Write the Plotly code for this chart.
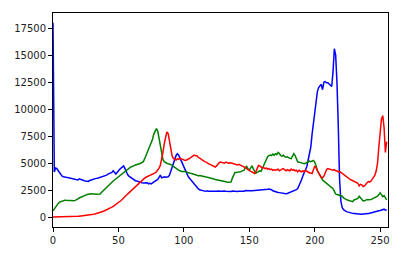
import plotly.graph_objects as go

bins = list(range(256))

blue = [
    18000, 4200, 4550, 4500, 4300, 4100, 3900, 3800, 3750, 3700, 3700, 3680, 3650, 3600, 3580, 3550,
    3520, 3500, 3480, 3450, 3550, 3500, 3420, 3400, 3380, 3350, 3300, 3320, 3400, 3450, 3500, 3550,
    3600, 3600, 3620, 3650, 3700, 3720, 3750, 3800, 3850, 3900, 4000, 4050, 4100, 4150, 4300, 4100,
    4000, 4150, 4350, 4450, 4550, 4700, 4750, 4500, 4200, 3950, 3800, 3700, 3620, 3500, 3400, 3380,
    3350, 3300, 3260, 3250, 3200, 3180, 3170, 3150, 3200, 3100, 3150, 3080, 3150, 3250, 3320, 3400,
    3500, 3700, 3900, 3650, 3700, 3750, 3700, 3750, 3740, 3900, 4300, 4700, 5100, 5500, 5700, 5880,
    5750, 5500, 5200, 4900, 4750, 4400, 4100, 3850, 3650, 3500, 3350, 3200, 3000, 2900, 2780, 2650,
    2550, 2500, 2470, 2450, 2420, 2400, 2450, 2400, 2380, 2420, 2400, 2410, 2380, 2400, 2420, 2380,
    2400, 2410, 2380, 2420, 2400, 2380, 2410, 2400, 2380, 2420, 2400, 2410, 2400, 2390, 2410, 2400,
    2420, 2410, 2400, 2470, 2450, 2420, 2440, 2450, 2460, 2470, 2460, 2480, 2470, 2500, 2480, 2500,
    2520, 2540, 2550, 2570, 2600, 2620, 2600, 2550, 2450, 2400, 2350, 2330, 2300, 2280, 2250, 2220,
    2200, 2180, 2170, 2200, 2250, 2300, 2350, 2400, 2430, 2470, 2550, 2650, 2900, 3200, 3500, 3850,
    4200, 4450, 4700, 5300, 5900, 6500, 7700, 8800, 9800, 10800, 11600, 12000, 12200, 12300, 11800, 12500,
    12550, 12450, 12450, 12300, 12200, 12100, 13500, 15600, 15000, 12500, 8500, 3500, 1500, 900, 700, 600,
    550, 500, 450, 400, 380, 360, 350, 330, 320, 300, 300, 300, 280, 300, 300, 310,
    320, 340, 380, 420, 450, 480, 500, 550, 580, 600, 620, 650, 700, 750, 650, 700,
]

green = [
    600, 800, 1000, 1150, 1280, 1400, 1450, 1500, 1550, 1580, 1570, 1600, 1560, 1550, 1520, 1500,
    1520, 1560, 1600, 1700, 1780, 1820, 1860, 1920, 1980, 2050, 2100, 2150, 2170, 2180, 2150, 2170,
    2160, 2130, 2120, 2110, 2150, 2300, 2420, 2550, 2700, 2850, 2950, 3050, 3150, 3250, 3350, 3450,
    3550, 3650, 3750, 3860, 3980, 4070, 4150, 4250, 4380, 4500, 4550, 4620, 4680, 4700, 4780, 4830,
    4850, 4900, 4950, 5000, 5060, 5150, 5400, 5700, 6000, 6330, 6600, 6900, 7200, 7700, 8000, 8200,
    8000, 7300, 6400, 5700, 5350, 5150, 5050, 5000, 4950, 4900, 4850, 4830, 4700, 4600, 4500, 4400,
    4370, 4300, 4250, 4220, 4250, 4200, 4150, 4100, 4100, 4070, 4050, 4000, 3950, 3900, 3880, 3850,
    3860, 3820, 3800, 3780, 3750, 3720, 3700, 3680, 3650, 3620, 3580, 3550, 3500, 3470, 3420, 3400,
    3380, 3350, 3320, 3300, 3280, 3260, 3250, 3260, 3270, 3600, 3900, 4150, 4150, 4200, 4180, 4200,
    4250, 4300, 4350, 4600, 4700, 4500, 4370, 4550, 4750, 4500, 4200, 4070, 4150, 4250, 4300, 4250,
    4500, 4830, 5100, 5400, 5600, 5700, 5750, 5700, 5850, 5750, 5880, 5800, 6000, 5900, 5700, 5650,
    5750, 5600, 5550, 5600, 5500, 5450, 5430, 5600, 5880, 5700, 5400, 5130, 5100, 5050, 5000, 4980,
    4950, 5000, 5050, 5100, 5200, 5150, 5200, 5250, 5100, 4800, 4300, 4100, 3800, 3600, 3450, 3350,
    3250, 3150, 3050, 2900, 2800, 2720, 2650, 2400, 2150, 2100, 2050, 2000, 1980, 1950, 1800, 1700,
    1660, 1600, 1580, 1520, 1500, 1450, 1600, 1650, 1700, 1750, 1950, 1800, 1600, 1500, 1520, 1600,
    1650, 1620, 1600, 1650, 1700, 1750, 1800, 1850, 1950, 2100, 2260, 2100, 1900, 2000, 1750, 1600,
]

red = [
    30, 30, 30, 30, 30, 30, 30, 35, 35, 35, 40, 40, 45, 50, 55, 60,
    65, 70, 80, 90, 100, 110, 120, 130, 145, 160, 175, 190, 210, 230, 250, 280,
    300, 330, 360, 400, 440, 480, 530, 580, 630, 680, 740, 800, 870, 940, 1010, 1090,
    1170, 1250, 1340, 1430, 1550, 1660, 1760, 1880, 2000, 2150, 2260, 2380, 2500, 2620, 2750, 2870,
    2980, 3100, 3220, 3330, 3450, 3550, 3620, 3700, 3760, 3800, 3830, 3900, 3950, 4000, 4100, 4200,
    4350, 4550, 4800, 5300, 6000, 6800, 7500, 7900, 7750, 7000, 6300, 5700, 5450, 5350, 5300, 5400,
    5350, 5450, 5400, 5350, 5300, 5250, 5300, 5350, 5450, 5500, 5600, 5650, 5750, 5700, 5700, 5550,
    5500, 5400, 5300, 5200, 5150, 5100, 5000, 4950, 4900, 4850, 4800, 4700, 4650, 4750, 4950, 5050,
    5100, 5050, 5050, 5000, 5100, 5050, 5000, 5050, 5050, 5000, 4950, 4900, 4900, 4850, 4900, 4850,
    4750, 4700, 4650, 4600, 4500, 4400, 4300, 4250, 4200, 4150, 4050, 4200, 4500, 4800, 4750, 4600,
    4550, 4600, 4500, 4550, 4450, 4500, 4400, 4450, 4350, 4400, 4350, 4400, 4450, 4300, 4400, 4450,
    4500, 4350, 4300, 4400, 4350, 4300, 4450, 4350, 4400, 4300, 4350, 4200, 4350, 4250, 4200, 4300,
    4200, 4350, 4250, 4150, 4100, 4100, 4050, 4400, 4700, 4600, 4300, 4100, 3900, 3700, 3650, 3800,
    4100, 4400, 4500, 4450, 4400, 4400, 4350, 4400, 4300, 4300, 4200, 4250, 4150, 4100, 3950, 3850,
    3750, 3700, 3600, 3500, 3450, 3400, 3350, 3300, 3250, 3150, 2900, 3050, 3000, 2850, 2900, 3100,
    3200, 3300, 3250, 3350, 3500, 3700, 3900, 4300, 5000, 6500, 8000, 9100, 9400, 8300, 6000, 7000,
]

x_ticks = [0, 50, 100, 150, 200, 250]
y_ticks = [0, 2500, 5000, 7500, 10000, 12500, 15000, 17500]

fig = go.Figure()
for vals, col in [(blue, "#0000ff"), (green, "#008000"), (red, "#ff0000")]:
    fig.add_trace(go.Scatter(x=bins, y=vals, mode="lines",
                             line=dict(color=col, width=1.5), showlegend=False,
                             hoverinfo="skip"))

axis_common = dict(showline=True, mirror=True, linecolor="#000000", linewidth=1,
                   ticks="outside", ticklen=4, tickwidth=1, tickcolor="#000000",
                   showgrid=False, zeroline=False,
                   tickfont=dict(family="DejaVu Sans", size=10, color="#222222"))

fig.update_layout(
    width=408, height=258,
    margin=dict(l=53, r=20, t=12, b=28),
    paper_bgcolor="white", plot_bgcolor="white",
    xaxis=dict(range=[0, 256], tickvals=x_ticks, ticktext=[str(v) for v in x_ticks], **axis_common),
    yaxis=dict(range=[-900, 18900], tickvals=y_ticks, ticktext=[str(v) for v in y_ticks], **axis_common),
)

fig.write_html("out.html")
